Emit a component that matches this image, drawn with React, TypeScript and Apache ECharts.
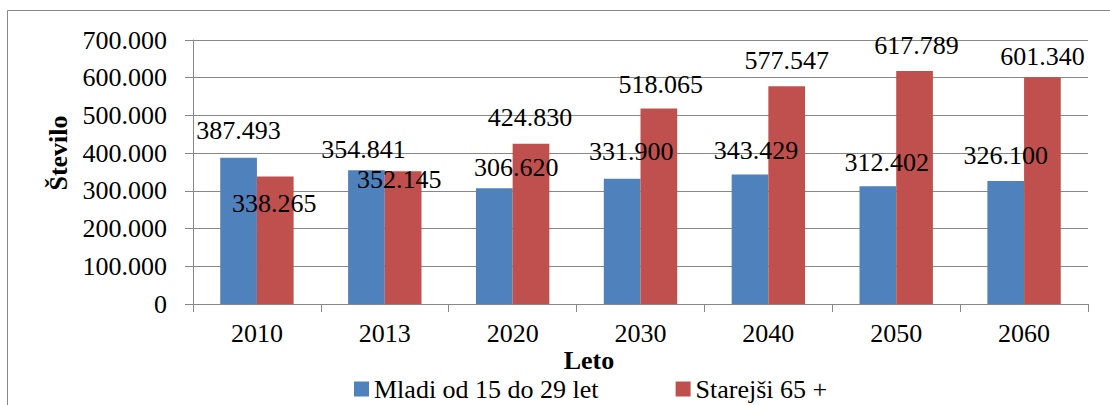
import React, { useEffect, useRef } from "react";
import * as echarts from "echarts";

const years = ["2010", "2013", "2020", "2030", "2040", "2050", "2060"];
const mladi = [387493, 354841, 306620, 331900, 343429, 312402, 326100];
const starejsi = [338265, 352145, 424830, 518065, 577547, 617789, 601340];
const seriesNames = ["Mladi od 15 do 29 let", "Starejši 65 +"];
const yTitle = "Število";
const xTitle = "Leto";

// manual label nudges (as in the reference)
const mladiLabelOffsets = [
  [0, -14], [-3, -8], [22, -8], [9, -14], [6, -11], [9, -11], [0, -13],
];
const starejsiLabelOffsets = [
  [-1, 40], [-4, 21], [-1, -13], [2, -11], [0, -13], [2, -13], [0, -8],
];

const FONT = "Liberation Serif, Times New Roman, serif";
const fmt = (v: number) =>
  v === 0 ? "0" : String(Math.round(v)).replace(/\B(?=(\d{3})+(?!\d))/g, ".");

export default function App() {
  const ref = useRef<HTMLDivElement>(null);
  useEffect(() => {
    document.body.style.margin = "0";
    const chart = echarts.init(ref.current!, null, { renderer: "svg" });
    const mk = (vals: number[], offs: number[][]) =>
      vals.map((v, i) => ({
        value: v,
        label: { offset: offs[i] },
      }));
    const labelStyle = {
      show: true,
      position: "top",
      distance: 0,
      fontSize: 26,
      color: "#000",
      fontFamily: FONT,
      formatter: (p: any) => fmt(p.value),
    };
    chart.setOption({
      animation: false,
      textStyle: { fontFamily: FONT },
      grid: { left: 193, right: 22, top: 40, bottom: 101, containLabel: false },
      legend: {
        left: 354,
        top: 376,
        padding: 0,
        itemWidth: 15,
        itemHeight: 15,
        itemGap: 77,
        icon: "rect",
        textStyle: { fontSize: 26, lineHeight: 26, color: "#000", fontFamily: FONT },
        data: seriesNames,
      },
      xAxis: {
        type: "category",
        data: years,
        axisLine: { lineStyle: { color: "#888888" } },
        axisTick: { show: true, length: 8, lineStyle: { color: "#888888" } },
        axisLabel: { fontSize: 26, color: "#000", margin: 16, fontFamily: FONT },
      },
      yAxis: {
        type: "value",
        min: 0,
        max: 700000,
        interval: 100000,
        axisLine: { show: true, lineStyle: { color: "#888888" } },
        axisTick: { show: true, length: 8, lineStyle: { color: "#888888" } },
        splitLine: { lineStyle: { color: "#888888", width: 1 } },
        axisLabel: {
          fontSize: 26,
          color: "#000",
          margin: 26,
          fontFamily: FONT,
          formatter: (v: number) => fmt(v),
        },
      },
      series: [
        {
          name: seriesNames[0],
          type: "bar",
          data: mk(mladi, mladiLabelOffsets),
          itemStyle: { color: "#4F81BD" },
          barGap: "0%",
          barCategoryGap: "42.6%",
          label: labelStyle,
        },
        {
          name: seriesNames[1],
          type: "bar",
          data: mk(starejsi, starejsiLabelOffsets),
          itemStyle: { color: "#C0504D" },
          barGap: "0%",
          barCategoryGap: "42.6%",
          label: labelStyle,
        },
      ],
      graphic: [
        {
          type: "rect",
          shape: { x: 7.5, y: 10.5, width: 1200, height: 500 },
          style: { fill: "none", stroke: "#888888", lineWidth: 1 },
          silent: true,
        },
        {
          type: "text",
          x: 58,
          y: 153,
          rotation: Math.PI / 2,
          style: {
            text: yTitle,
            fontFamily: FONT,
            fontWeight: "bold",
            fontSize: 26,
            fill: "#000",
            align: "center",
            verticalAlign: "middle",
          },
        },
        {
          type: "text",
          x: 589,
          y: 360,
          style: {
            text: xTitle,
            fontFamily: FONT,
            fontWeight: "bold",
            fontSize: 26,
            fill: "#000",
            align: "center",
            verticalAlign: "middle",
          },
        },
      ],
    });
    return () => chart.dispose();
  }, []);
  return <div ref={ref} style={{ width: 1110, height: 405 }} />;
}
